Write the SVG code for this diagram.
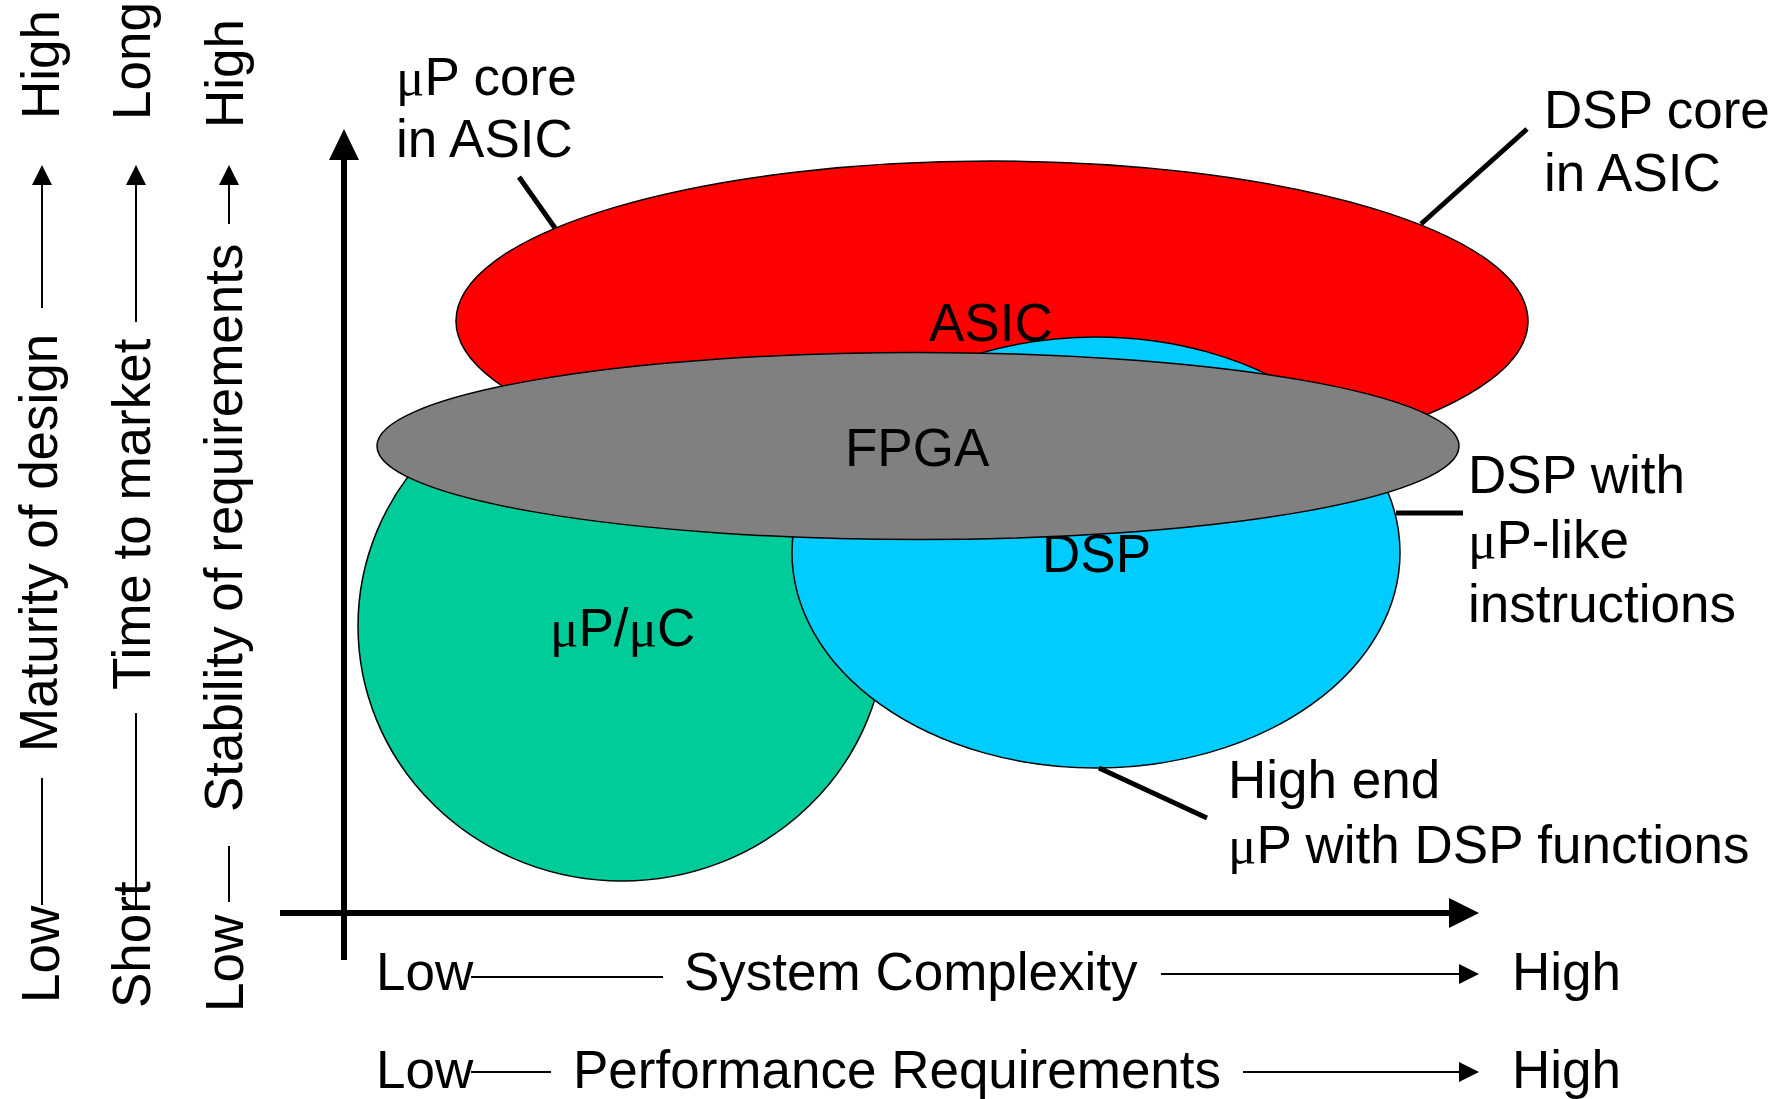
<svg xmlns="http://www.w3.org/2000/svg" width="1792" height="1099" viewBox="0 0 1792 1099">
<defs>
<style>
text{font-family:"Liberation Sans",Arial,sans-serif;font-size:53px;fill:#000}
.mu{font-family:"Liberation Serif","Times New Roman",serif}
.sh{stroke:#000;stroke-width:1.5}
.thin{stroke:#000;stroke-width:2;fill:none}
.lead{stroke:#000;stroke-width:5;fill:none}
.axis{stroke:#000;stroke-width:6;fill:none}
</style>
<marker id="ah" viewBox="0 0 20 20" refX="0" refY="10" markerWidth="22" markerHeight="20" markerUnits="userSpaceOnUse" orient="auto">
<path d="M0,0 L20,10 L0,20 z" fill="#000"/>
</marker>
</defs>
<rect width="1792" height="1099" fill="#fff"/>

<g id="asic">
<ellipse class="sh" cx="992" cy="321" rx="536" ry="160" fill="#FF0000"/>
</g>
<g id="upuc">
<ellipse class="sh" cx="622" cy="626" rx="264" ry="255" fill="#00CC99"/>
<text x="550" y="646"><tspan class="mu">μ</tspan>P/<tspan class="mu">μ</tspan>C</text>
</g>
<g id="dsp">
<ellipse class="sh" cx="1096" cy="552.5" rx="304" ry="215.5" fill="#00CCFF"/>
<text x="1042" y="572">DSP</text>
</g>
<g id="fpga">
<ellipse class="sh" cx="918" cy="446" rx="541" ry="93.5" fill="#808080"/>
<text x="845" y="466">FPGA</text>
</g>
<g id="asic-label">
<text x="929" y="341">ASIC</text>
</g>

<g id="connectors">
<line class="lead" x1="519" y1="177" x2="555" y2="228"/>
<line class="lead" x1="1527" y1="129" x2="1421" y2="224"/>
<line class="lead" x1="1396" y1="513" x2="1463" y2="513"/>
<line class="lead" x1="1099" y1="768" x2="1207" y2="818"/>
<line class="axis" x1="344" y1="960" x2="344" y2="158"/>
<path d="M329,160 L344,129 L359,160 z" fill="#000"/>
<line class="axis" x1="280" y1="913" x2="1450" y2="913"/>
<path d="M1449,898 L1479,913 L1449,928 z" fill="#000"/>
<line class="thin" x1="471" y1="977" x2="663" y2="977"/>
<line class="thin" x1="1161" y1="974" x2="1459" y2="974" marker-end="url(#ah)"/>
<line class="thin" x1="471" y1="1072" x2="551" y2="1072"/>
<line class="thin" x1="1243" y1="1072" x2="1459" y2="1072" marker-end="url(#ah)"/>
<line class="thin" x1="42" y1="905" x2="42" y2="778"/>
<line class="thin" x1="42" y1="308" x2="42" y2="185" marker-end="url(#ah)"/>
<line class="thin" x1="136" y1="906" x2="136" y2="713"/>
<line class="thin" x1="136" y1="322" x2="136" y2="185" marker-end="url(#ah)"/>
<line class="thin" x1="229" y1="902" x2="229" y2="846"/>
<line class="thin" x1="229" y1="224" x2="229" y2="185" marker-end="url(#ah)"/>
</g>

<g id="labels">
<text x="396" y="95"><tspan class="mu">μ</tspan>P core</text>
<text x="396" y="157">in ASIC</text>
<text x="1544" y="128">DSP core</text>
<text x="1544" y="191">in ASIC</text>
<text x="1468" y="493">DSP with</text>
<text x="1468" y="558"><tspan class="mu">μ</tspan>P-like</text>
<text x="1468" y="622">instructions</text>
<text x="1228" y="798">High end</text>
<text x="1228" y="863"><tspan class="mu">μ</tspan>P with DSP functions</text>
</g>

<g id="x-axis-labels">
<text x="376" y="990">Low</text>
<text x="684" y="990">System Complexity</text>
<text x="1512" y="990">High</text>
<text x="376" y="1088">Low</text>
<text x="573" y="1088">Performance Requirements</text>
<text x="1512" y="1088">High</text>
</g>

<g id="y-axis-labels">
<text transform="translate(59,1003) rotate(-90)">Low</text>
<text transform="translate(57,752) rotate(-90)">Maturity of design</text>
<text transform="translate(59,119) rotate(-90)">High</text>
<text transform="translate(150,1008) rotate(-90)">Short</text>
<text transform="translate(150,690) rotate(-90)">Time to market</text>
<text transform="translate(150,120) rotate(-90)">Long</text>
<text transform="translate(243,1012) rotate(-90)">Low</text>
<text transform="translate(242,812) rotate(-90)">Stability of requirements</text>
<text transform="translate(243,128) rotate(-90)">High</text>
</g>
</svg>
